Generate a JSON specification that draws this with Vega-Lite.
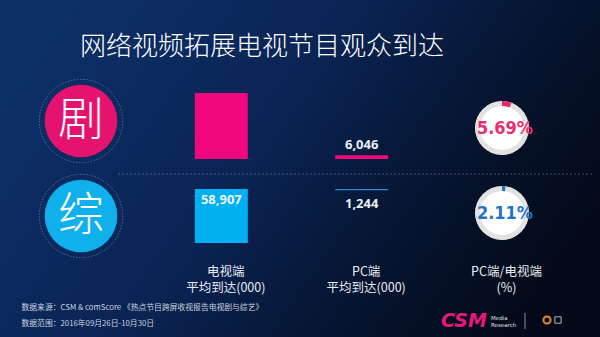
{
  "$schema": "https://vega.github.io/schema/vega-lite/v6.json",
  "width": 600,
  "height": 337,
  "autosize": {"type": "fit", "contains": "padding"},
  "padding": 0,
  "background": "#081a3c",
  "title": {
    "text": "网络视频拓展电视节目观众到达",
    "orient": "top",
    "frame": "group",
    "anchor": "start",
    "dx": 80,
    "dy": 26,
    "offset": -60,
    "baseline": "bottom",
    "font": "Noto Sans CJK SC",
    "fontSize": 26,
    "fontWeight": 300,
    "color": "#ffffff"
  },
  "config": {"view": {"stroke": null}},
  "datasets": {
    "reach": [
      {"genre": "剧", "platform": "电视端", "reach": 106257},
      {"genre": "剧", "platform": "PC端", "reach": 6046},
      {"genre": "综", "platform": "电视端", "reach": 58907},
      {"genre": "综", "platform": "PC端", "reach": 1244}
    ],
    "share": [
      {"genre": "剧", "share": 0.0569},
      {"genre": "综", "share": 0.0211}
    ]
  },
  "layer": [
    {
      "data": {"values": [{}]},
      "mark": {
        "type": "rect",
        "fill": {
          "gradient": "linear",
          "x1": 0, "y1": 0.2, "x2": 1, "y2": 0.6,
          "stops": [
            {"offset": 0, "color": "#0d3069"},
            {"offset": 0.45, "color": "#0a2454"},
            {"offset": 0.75, "color": "#06142f"},
            {"offset": 1, "color": "#040a19"}
          ]
        }
      },
      "encoding": {}
    },
    {
      "data": {"values": [{}]},
      "mark": {"type": "rule", "color": "#9aa8c0", "opacity": 0.55, "strokeWidth": 0.8, "strokeDash": [2, 2]},
      "encoding": {"x": {"value": 118}, "x2": {"value": 592}, "y": {"value": 174}}
    },
    {
      "data": {"name": "share"},
      "encoding": {
        "x": {"datum": "类型", "type": "nominal"},
        "y": {"field": "genre", "type": "nominal", "scale": {"type": "point", "domain": ["剧", "综"], "range": [121, 216], "padding": 0}, "axis": null}
      },
      "layer": [
        {"mark": {"type": "point", "shape": "circle", "size": 6940, "filled": false, "stroke": "#8a9bbb", "strokeWidth": 0.8, "strokeDash": [1.5, 1.5], "opacity": 0.7}},
        {
          "mark": {"type": "point", "shape": "circle", "size": 5281, "filled": true, "opacity": 1, "strokeWidth": 0},
          "encoding": {"fill": {"field": "genre", "type": "nominal", "scale": {"domain": ["剧", "综"], "range": ["#e5136f", "#0fb0ec"]}, "legend": null}}
        },
        {
          "mark": {"type": "text", "font": "Noto Sans CJK SC", "fontSize": 46, "fontWeight": 300, "color": "#ffffff", "baseline": "middle"},
          "encoding": {"text": {"field": "genre", "type": "nominal"}}
        }
      ]
    },
    {
      "data": {"name": "reach"},
      "transform": [{"filter": "datum.genre === '剧'"}],
      "encoding": {
        "x": {
          "field": "platform",
          "type": "nominal",
          "scale": {"type": "point", "domain": ["类型", "电视端", "PC端", "PC端/电视端"], "range": [81, 502], "padding": 0},
          "axis": {
            "orient": "bottom",
            "offset": -72,
            "zindex": 1,
            "domain": false,
            "ticks": false,
            "grid": false,
            "labelAngle": 0,
            "labelAlign": "center",
            "labelExpr": "datum.value === '类型' ? '' : [datum.value, datum.value === 'PC端/电视端' ? '(%)' : '平均到达(000)']",
            "labelFont": "Noto Sans CJK SC",
            "labelFontSize": 12.5,
            "labelColor": "#e6ebf2",
            "labelLineHeight": 16,
            "labelPadding": 0,
            "labelBaseline": "top",
            "labelOverlap": false,
            "labelOffset": 4,
            "title": ["数据来源：CSM & comScore 《热点节目跨屏收视报告电视剧与综艺》", "数据范围：2016年09月26日-10月30日"],
            "titleFont": "Noto Sans CJK SC",
            "titleFontSize": 7.8,
            "titleFontWeight": "normal",
            "titleColor": "#c9d2df",
            "titleAlign": "left",
            "titleAnchor": "start",
            "titleBaseline": "top",
            "titleLineHeight": 16,
            "titleX": 21,
            "titleY": 38
          }
        },
        "y": {"field": "reach", "type": "quantitative", "scale": {"range": [159, 93], "zero": true, "nice": false}, "axis": null}
      },
      "layer": [
        {"mark": {"type": "bar", "width": 53, "color": "#f0077b"}},
        {
          "transform": [{"filter": "datum.platform === 'PC端'"}],
          "mark": {"type": "text", "baseline": "bottom", "dy": -3, "font": "Open Sans", "fontWeight": "bold", "fontSize": 13, "color": "#e9eef5"},
          "encoding": {"text": {"field": "reach", "type": "quantitative", "format": ","}}
        }
      ]
    },
    {
      "data": {"name": "reach"},
      "transform": [{"filter": "datum.genre === '综'"}],
      "encoding": {
        "x": {"field": "platform", "type": "nominal"},
        "y": {"field": "reach", "type": "quantitative", "scale": {"range": [189, 243], "zero": true, "nice": false}, "axis": null}
      },
      "layer": [
        {
          "mark": {"type": "bar", "width": 53},
          "encoding": {"color": {"condition": {"test": "datum.platform === 'PC端'", "value": "#2f88d0"}, "value": "#00b0f0"}}
        },
        {
          "transform": [{"filter": "datum.platform === '电视端'"}],
          "mark": {"type": "text", "baseline": "top", "dy": 5, "font": "Open Sans", "fontWeight": "bold", "fontSize": 13, "color": "#eef3f8"},
          "encoding": {"y": {"datum": 0}, "text": {"field": "reach", "type": "quantitative", "format": ","}}
        },
        {
          "transform": [{"filter": "datum.platform === 'PC端'"}],
          "mark": {"type": "text", "baseline": "top", "dy": 8, "font": "Open Sans", "fontWeight": "bold", "fontSize": 13, "color": "#e9eef5"},
          "encoding": {"text": {"field": "reach", "type": "quantitative", "format": ","}}
        }
      ]
    },
    {
      "data": {"name": "share"},
      "encoding": {
        "x": {"datum": "PC端/电视端", "type": "nominal"},
        "y": {"field": "genre", "type": "nominal", "scale": {"type": "point", "domain": ["剧", "综"], "range": [128, 213], "padding": 0}, "axis": null}
      },
      "layer": [
        {"mark": {"type": "point", "shape": "circle", "size": 2827, "filled": true, "color": "#ffffff", "opacity": 1, "strokeWidth": 0}},
        {"mark": {"type": "arc", "radius": 27, "radius2": 22, "theta": 0, "theta2": 6.2832, "color": "#e2e2e2"}},
        {
          "mark": {"type": "arc", "radius": 27, "radius2": 22},
          "encoding": {
            "theta": {"field": "share", "type": "quantitative", "stack": null, "scale": {"domain": [0, 1], "range": [0, 6.2832]}},
            "color": {"condition": {"test": "datum.genre === '剧'", "value": "#e8276f"}, "value": "#1f78c8"}
          }
        },
        {
          "mark": {"type": "text", "font": "DejaVu Sans Condensed", "fontWeight": "bold", "fontSize": 18, "dx": 3, "dy": 1},
          "encoding": {
            "text": {"field": "share", "type": "quantitative", "format": ".2%"},
            "color": {"condition": {"test": "datum.genre === '剧'", "value": "#e8306f"}, "value": "#1f74c4"}
          }
        }
      ]
    },
    {
      "data": {"values": [{}]},
      "layer": [
        {
          "mark": {"type": "text", "text": "CSM", "font": "DejaVu Sans", "fontWeight": "bold", "fontStyle": "italic", "fontSize": 19, "color": "#e6197a", "align": "left", "baseline": "alphabetic"},
          "encoding": {"x": {"value": 441}, "y": {"value": 327}}
        },
        {
          "mark": {"type": "text", "text": "Media", "font": "DejaVu Sans", "fontSize": 5.5, "color": "#dfe5ee", "align": "left", "baseline": "alphabetic"},
          "encoding": {"x": {"value": 491}, "y": {"value": 320}}
        },
        {
          "mark": {"type": "text", "text": "Research", "font": "DejaVu Sans", "fontSize": 5.5, "color": "#dfe5ee", "align": "left", "baseline": "alphabetic"},
          "encoding": {"x": {"value": 491}, "y": {"value": 327}}
        },
        {
          "mark": {"type": "rule", "color": "#aab4c4", "strokeWidth": 0.8},
          "encoding": {"x": {"value": 525}, "y": {"value": 313}, "y2": {"value": 329}}
        },
        {
          "mark": {"type": "point", "shape": "circle", "size": 50, "filled": false, "stroke": "#f08a24", "strokeWidth": 2, "opacity": 1},
          "encoding": {"x": {"value": 547}, "y": {"value": 320}}
        },
        {
          "mark": {"type": "point", "shape": "square", "size": 40, "filled": false, "stroke": "#dfe5ee", "strokeWidth": 0.8, "opacity": 1},
          "encoding": {"x": {"value": 558}, "y": {"value": 320}}
        }
      ]
    }
  ],
  "resolve": {"scale": {"y": "independent", "color": "independent", "fill": "independent", "theta": "independent"}}
}
